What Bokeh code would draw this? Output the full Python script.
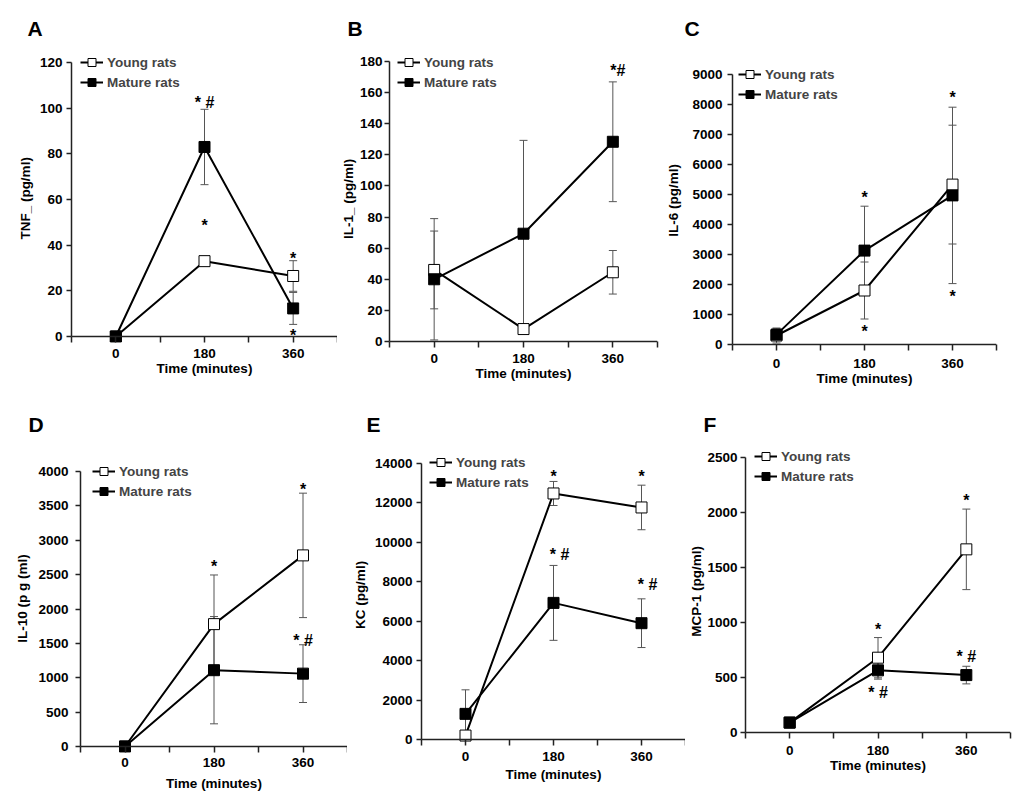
from bokeh.plotting import figure
from bokeh.layouts import row, column
from bokeh.models import (ColumnDataSource, Range1d, FixedTicker, Whisker, TeeHead, Span,
                          Legend, LegendItem, NumeralTickFormatter)
from bokeh.core.properties import value
from bokeh.embed import file_html
from bokeh.resources import INLINE

FONT = "Liberation Sans"
TXT = "13.5px"
times = ["0", "180", "360"]
series_names = ["Young rats", "Mature rats"]

# ---- Panel A: TNF ----
a_ylabel = "TNF_  (pg/ml)"
a_young = [0, 33, 26.5]
a_young_err = [0, 2, 6.7]
a_mature = [0, 83, 12.3]
a_mature_err = [0, 16.5, 7]
a_ticks = [0, 20, 40, 60, 80, 100, 120]
a_marks_x = ["180", "180", "360", "360"]
a_marks_y = [102.5, 48.6, 34.2, 0.4]
a_marks_t = ["* #", "*", "*", "*"]

# ---- Panel B: IL-1 ----
b_ylabel = "IL-1_ (pg/ml)"
b_young = [46, 8, 44.5]
b_young_err = [25, 0, 14]
b_mature = [40, 69.3, 128.4]
b_mature_err = [39, 60, 38.5]
b_ticks = [0, 20, 40, 60, 80, 100, 120, 140, 160, 180]
b_marks_x = ["360"]
b_marks_y = [174.2]
b_marks_t = ["*#"]

# ---- Panel C: IL-6 ----
c_ylabel = "IL-6 (pg/ml)"
c_young = [300, 1800, 5330]
c_young_err = [250, 950, 1980]
c_mature = [330, 3130, 4970]
c_mature_err = [200, 1480, 2940]
c_ticks = [0, 1000, 2000, 3000, 4000, 5000, 6000, 7000, 8000, 9000]
c_marks_x = ["180", "180", "360", "360"]
c_marks_y = [4900, 423, 8223, 1610]
c_marks_t = ["*", "*", "*", "*"]

# ---- Panel D: IL-10 ----
d_ylabel = "IL-10 (p g (ml)"
d_young = [0, 1780, 2780]
d_young_err = [0, 715, 905]
d_mature = [0, 1110, 1060]
d_mature_err = [0, 780, 420]
d_ticks = [0, 500, 1000, 1500, 2000, 2500, 3000, 3500, 4000]
d_marks_x = ["180", "360", "360"]
d_marks_y = [2615, 3742, 1541]
d_marks_t = ["*", "*", "* #"]

# ---- Panel E: KC ----
e_ylabel = "KC (pg/ml)"
e_young = [200, 12480, 11770]
e_young_err = [0, 610, 1130]
e_mature = [1300, 6930, 5900]
e_mature_err = [1220, 1900, 1235]
e_ticks = [0, 2000, 4000, 6000, 8000, 10000, 12000, 14000]
e_marks_x = ["180", "360", "180", "360"]
e_marks_y = [13343, 13343, 9401, 7864]
e_marks_t = ["*", "*", "* #", "* #"]

# ---- Panel F: MCP-1 ----
f_ylabel = "MCP-1 (pg/ml)"
f_young = [90, 680, 1665]
f_young_err = [0, 183, 366]
f_mature = [90, 565, 522]
f_mature_err = [0, 80, 80]
f_ticks = [0, 500, 1000, 1500, 2000, 2500]
f_marks_x = ["180", "180", "360", "360"]
f_marks_y = [933, 363, 2107, 688]
f_marks_t = ["*", "* #", "*", "* #"]

# ---- layout geometry (page pixels) ----
PAD = 6
ROWS = {
    1: dict(top=0, bottom=396, frame_top=50, title_standoff=21),
    2: dict(top=396, bottom=802, frame_top=444, title_standoff=18),
}
GEO = {
    "A": dict(row=1, x=(0, 337), frame_x=(71, 337), max_px=62, zero=336, ys=(4, 4), xs=(6, 0),
              leg=(9, 52), let_x=27, mark_dx=[0, 0, 0, 0]),
    "B": dict(row=1, x=(337, 662), frame_x=(389, 657), max_px=61, zero=341, ys=(2, 1), xs=(6, 0),
              leg=(8, 52), let_x=347, mark_dx=[5]),
    "C": dict(row=1, x=(662, 1020), frame_x=(732, 996), max_px=74, zero=344, ys=(5, 8), xs=(8, 0),
              leg=(6, 64), let_x=684, mark_dx=[0, 0, 0, 0]),
    "D": dict(row=2, x=(0, 347), frame_x=(80, 347), max_px=471, zero=746, ys=(7, 5), xs=(5, 6),
              leg=(12, 461), let_x=28, mark_dx=[0, 0, 0]),
    "E": dict(row=2, x=(347, 685), frame_x=(421, 685), max_px=463, zero=739, ys=(4, 4), xs=(6, 3),
              leg=(8, 452), let_x=366, mark_dx=[0, 0, 6, 6]),
    "F": dict(row=2, x=(685, 1020), frame_x=(745, 1010), max_px=457, zero=732, ys=(3, 0), xs=(7, 0),
              leg=(9, 446), let_x=703, mark_dx=[0, 0, 0, 0]),
}
AX = "#222222"
ERR = "#555555"


def panel(letter, ylabel, young, young_err, mature, mature_err, ticks, mx, my, mt):
    g = GEO[letter]
    r = ROWS[g["row"]]
    fl, fr = g["x"]
    rl, rr = g["frame_x"]
    ft, zero = r["frame_top"], g["zero"]
    frame_b = zero + PAD
    ymax = ticks[-1]
    k = (zero - g["max_px"]) / ymax  # px per unit
    y_end = ymax + (g["max_px"] - ft) / k
    y_start = -PAD / k
    p = figure(width=fr - fl, height=r["bottom"] - r["top"], x_range=Range1d(0, 3),
               y_range=Range1d(y_start, y_end),
               output_backend="svg", toolbar_location=None,
               min_border_left=rl - fl, min_border_right=fr - rr,
               min_border_top=ft - r["top"], min_border_bottom=r["bottom"] - frame_b)
    p.outline_line_color = None
    p.xgrid.visible = False
    p.ygrid.visible = False

    # panel letter as title
    p.title.text = letter
    p.title.align = "left"
    p.title.offset = g["let_x"] - rl
    p.title.standoff = r["title_standoff"]
    p.title.text_font = FONT
    p.title.text_font_style = "bold"
    p.title.text_font_size = "21px"
    p.title.text_color = "black"

    xpos = [times.index(t) + 0.5 for t in times]

    # x axis (drawn at frame bottom, its line replaced by a span at zero)
    xa = p.xaxis[0]
    xa.ticker = FixedTicker(ticks=xpos, minor_ticks=[0, 1, 2, 3])
    xa.major_label_overrides = {x: t for x, t in zip(xpos, times)}
    xa.axis_label = "Time (minutes)"
    xa.major_label_standoff = g["xs"][0]
    xa.axis_label_standoff = g["xs"][1]
    xa.axis_line_color = None
    xa.major_tick_in = PAD
    xa.major_tick_out = 0
    xa.minor_tick_in = PAD
    xa.minor_tick_out = 0
    xa.minor_tick_line_color = AX
    xa.minor_tick_line_width = 1.5
    p.add_layout(Span(location=0, dimension="width", line_color=AX, line_width=1.5))

    ya = p.yaxis[0]
    ya.ticker = FixedTicker(ticks=ticks)
    ya.formatter = NumeralTickFormatter(format="0")
    ya.bounds = (0, ymax)
    ya.axis_label = ylabel
    ya.major_label_standoff = g["ys"][0]
    ya.axis_label_standoff = g["ys"][1]
    ya.minor_tick_line_color = None
    ya.axis_line_color = AX
    ya.axis_line_width = 1.5
    ya.major_tick_in = 0
    ya.major_tick_out = 5

    for ax in (xa, ya):
        ax.major_tick_line_color = AX
        ax.major_tick_line_width = 1.5
        ax.major_label_text_font = FONT
        ax.major_label_text_font_style = "bold"
        ax.major_label_text_font_size = TXT
        ax.major_label_text_color = "black"
        ax.axis_label_text_font = FONT
        ax.axis_label_text_font_style = "bold"
        ax.axis_label_text_font_size = TXT
        ax.axis_label_text_color = "black"

    # error bars
    for vals, errs in ((young, young_err), (mature, mature_err)):
        src = ColumnDataSource(dict(x=xpos, upper=[v + e for v, e in zip(vals, errs)],
                                    lower=[v - e for v, e in zip(vals, errs)]))
        w = Whisker(source=src, base="x", upper="upper", lower="lower", dimension="height",
                    line_color=ERR, line_width=1, level="underlay",
                    upper_head=TeeHead(size=8, line_color=ERR, line_width=1),
                    lower_head=TeeHead(size=8, line_color=ERR, line_width=1))
        p.add_layout(w)

    ly = p.line(xpos, young, line_color="black", line_width=2)
    lm = p.line(xpos, mature, line_color="black", line_width=2)
    sy = p.scatter(xpos, young, marker="square", size=11, fill_color="white", line_color="black", line_width=1)
    sm = p.scatter(xpos, mature, marker="square", size=11, fill_color="black", line_color="black", line_width=1)

    # significance marks
    msrc = ColumnDataSource(dict(x=[times.index(t) + 0.5 for t in mx], y=my, t=mt, dx=g["mark_dx"]))
    p.text(x="x", y="y", text="t", x_offset="dx", source=msrc, text_font=value(FONT), text_font_style="bold",
           text_font_size="16px", text_align="center", text_baseline="middle", text_color="black")

    # legend (location = bottom-left corner, px from frame bottom-left)
    dx, top = g["leg"]
    gh = 20
    leg = Legend(items=[LegendItem(label=series_names[0], renderers=[ly, sy]),
                        LegendItem(label=series_names[1], renderers=[lm, sm])],
                 location=(dx, frame_b - (top + 2 * gh)), padding=0, margin=0, spacing=0,
                 glyph_width=23, glyph_height=gh, label_height=gh, label_standoff=4,
                 label_text_font=FONT, label_text_font_style="bold", label_text_font_size=TXT,
                 border_line_color=None, background_fill_alpha=0)
    p.add_layout(leg)
    return p


pA = panel("A", a_ylabel, a_young, a_young_err, a_mature, a_mature_err, a_ticks, a_marks_x, a_marks_y, a_marks_t)
pB = panel("B", b_ylabel, b_young, b_young_err, b_mature, b_mature_err, b_ticks, b_marks_x, b_marks_y, b_marks_t)
pC = panel("C", c_ylabel, c_young, c_young_err, c_mature, c_mature_err, c_ticks, c_marks_x, c_marks_y, c_marks_t)
pD = panel("D", d_ylabel, d_young, d_young_err, d_mature, d_mature_err, d_ticks, d_marks_x, d_marks_y, d_marks_t)
pE = panel("E", e_ylabel, e_young, e_young_err, e_mature, e_mature_err, e_ticks, e_marks_x, e_marks_y, e_marks_t)
pF = panel("F", f_ylabel, f_young, f_young_err, f_mature, f_mature_err, f_ticks, f_marks_x, f_marks_y, f_marks_t)

layout = column(row(column(pA), column(pB), column(pC)),
                row(column(pD), column(pE), column(pF)))
open("out.html", "w").write(file_html(layout, INLINE))
